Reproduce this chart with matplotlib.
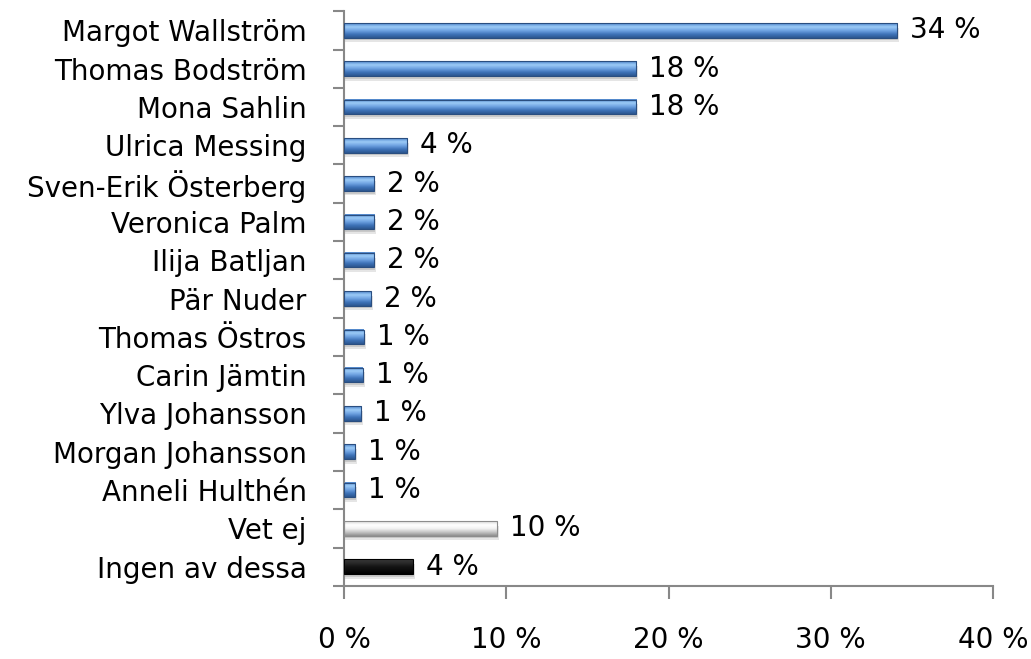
import numpy as np
import matplotlib.pyplot as plt
from matplotlib.colors import LinearSegmentedColormap
from matplotlib.ticker import FixedLocator, MultipleLocator, FuncFormatter

plt.rcParams['font.family'] = ['DejaVu Sans']

names = ['Margot Wallström', 'Thomas Bodström', 'Mona Sahlin', 'Ulrica Messing',
         'Sven-Erik Österberg', 'Veronica Palm', 'Ilija Batljan', 'Pär Nuder',
         'Thomas Östros', 'Carin Jämtin', 'Ylva Johansson', 'Morgan Johansson',
         'Anneli Hulthén', 'Vet ej', 'Ingen av dessa']
values = [34.1, 18.0, 18.0, 3.9, 1.85, 1.85, 1.85, 1.66, 1.23, 1.17, 1.05, 0.68, 0.68, 9.43, 4.25]
labels = ['34 %', '18 %', '18 %', '4 %', '2 %', '2 %', '2 %', '2 %', '1 %', '1 %',
          '1 %', '1 %', '1 %', '10 %', '4 %']
kinds = ['blue'] * 13 + ['grey', 'black']

# gradient stops, top to bottom
grads = {
    'blue': ['#4F86CC', '#9CCBF7', '#6FA3E2', '#3E73B8', '#2C568F'],
    'grey': ['#D8D8D8', '#FFFFFF', '#F2F2F2', '#C4C4C4', '#8E8E8E'],
    'black': ['#3A3A3A', '#2A2A2A', '#151515', '#0A0A0A', '#000000'],
}
edges = {'blue': '#2A4E80', 'grey': '#8C8C8C', 'black': '#000000'}

fig = plt.figure(figsize=(10.31, 6.59), dpi=100)
ax = fig.add_axes([0.3337, 0.111, 0.6295, 0.872])

y = np.arange(len(names))
h = 0.38
grad = np.linspace(0, 1, 64).reshape(-1, 1)
for yi, v, lab, k in zip(y, values, labels, kinds):
    cmap = LinearSegmentedColormap.from_list(k, grads[k])
    # soft shadow below the bar
    ax.barh(yi + 0.12, v + 0.12, height=h, color='#000000', alpha=0.10, zorder=1)
    ax.barh(yi + 0.07, v + 0.06, height=h, color='#000000', alpha=0.12, zorder=1)
    ax.imshow(grad, cmap=cmap, aspect='auto', interpolation='bilinear',
              extent=[0, v, yi + h / 2, yi - h / 2], zorder=2)
    ax.barh(yi, v, height=h, facecolor='none', edgecolor=edges[k], linewidth=0.8, zorder=3)
    ax.text(v + 0.8, yi, lab, va='center', ha='left', fontsize=20, zorder=4)

ax.set_xlim(0, 40)
ax.set_ylim(len(names) - 0.5, -0.5)

ax.xaxis.set_major_locator(MultipleLocator(10))
ax.xaxis.set_major_formatter(FuncFormatter(lambda x, p: f'{int(x)} %'))
ax.set_yticks(y)
ax.set_yticklabels(names)
ax.yaxis.set_minor_locator(FixedLocator(np.arange(-0.5, len(names), 1.0)))

ax.tick_params(axis='y', which='major', length=0, pad=27, labelsize=20)
ax.tick_params(axis='y', which='minor', length=8, width=1.5, color='#888888')
ax.tick_params(axis='x', which='major', length=9, width=1.5, color='#888888',
               pad=20, labelsize=20)

for s in ['top', 'right']:
    ax.spines[s].set_visible(False)
for s in ['left', 'bottom']:
    ax.spines[s].set_color('#888888')
    ax.spines[s].set_linewidth(1.5)

fig.savefig('out.png', dpi=100)
